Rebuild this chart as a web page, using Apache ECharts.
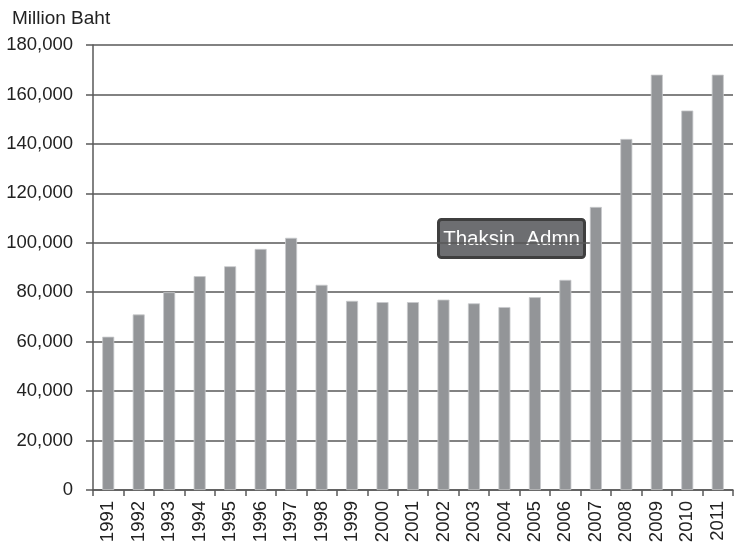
<!DOCTYPE html>
<html><head><meta charset="utf-8">
<script src="https://cdn.jsdelivr.net/npm/echarts@6/dist/echarts.min.js"></script>
<style>html,body{margin:0;padding:0;background:#fff}#c{width:735px;height:547px}</style>
</head><body><div id="c"></div>
<script>
var years = ['1991','1992','1993','1994','1995','1996','1997','1998','1999','2000','2001','2002','2003','2004','2005','2006','2007','2008','2009','2010','2011'];
var values = [62000,71000,80000,86500,90500,97500,102000,83000,76500,76000,76000,77000,75500,74000,78000,85000,114500,142000,168000,153500,168000];
var yTicks = [0,20000,40000,60000,80000,100000,120000,140000,160000,180000];
var FONT = 'Liberation Sans';
var chart = echarts.init(document.getElementById('c'));
chart.setOption({
  animation:false,
  backgroundColor:'#fff',
  title:{text:'Million Baht',left:7,top:4,textStyle:{fontFamily:FONT,fontSize:19,fontWeight:'normal',color:'#222'}},
  grid:{left:93,right:2,top:45,bottom:57,containLabel:false},
  xAxis:{type:'category',data:years,boundaryGap:true,
    axisLine:{lineStyle:{color:'#595959',width:1.5}},
    axisTick:{show:true,alignWithLabel:false,length:6,lineStyle:{color:'#595959',width:1.5}},
    axisLabel:{rotate:90,interval:0,margin:11,fontFamily:FONT,fontSize:18.5,color:'#222'}},
  yAxis:{type:'value',min:0,max:180000,interval:20000,
    axisLine:{show:true,lineStyle:{color:'#595959',width:1.5}},
    axisTick:{show:true,length:7,lineStyle:{color:'#595959',width:1.5}},
    splitLine:{lineStyle:{color:'#595959',width:1.5}},
    axisLabel:{margin:20,fontFamily:FONT,fontSize:18.5,color:'#222',
      formatter:function(v){return yTicks.indexOf(v)>=0?v.toLocaleString('en-US'):'';}}},
  series:[{type:'bar',data:values,barWidth:12,z:3,
    itemStyle:{color:'#939598',borderColor:'#c8c9cb',borderWidth:0.8}}],
  graphic:[{type:'group',left:437,top:218,z:100,children:[
    {type:'rect',shape:{x:0,y:0,width:146,height:38,r:3},style:{fill:'#6d6e71',stroke:'#3f3f3f',lineWidth:3}},
    {type:'text',style:{x:73,y:20,text:'Thaksin  Admn',align:'center',verticalAlign:'middle',fill:'#fff',fontFamily:FONT,fontSize:20.5}}
  ]}]
});
</script></body></html>
